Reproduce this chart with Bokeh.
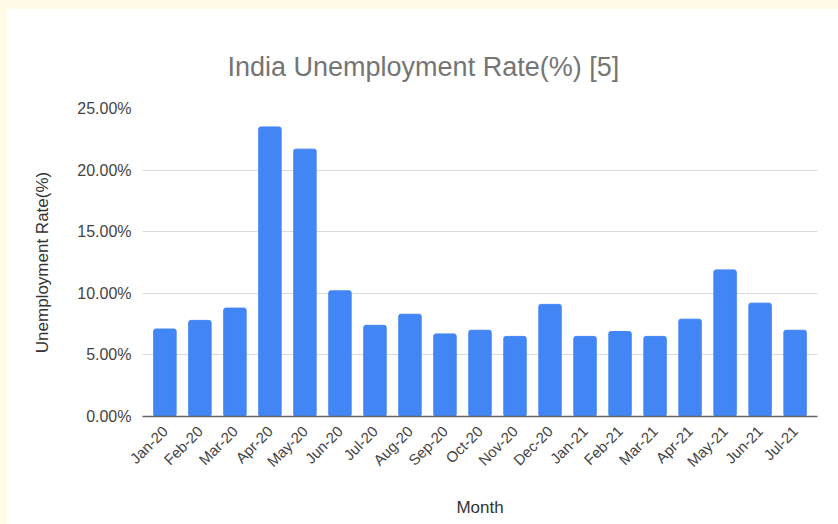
import math
from bokeh.plotting import figure
from bokeh.models import FactorRange, Range1d, FixedTicker, PrintfTickFormatter, ColumnDataSource
from bokeh.layouts import column
from bokeh.embed import file_html
from bokeh.resources import INLINE

months = ["Jan-20", "Feb-20", "Mar-20", "Apr-20", "May-20", "Jun-20", "Jul-20",
          "Aug-20", "Sep-20", "Oct-20", "Nov-20", "Dec-20", "Jan-21", "Feb-21",
          "Mar-21", "Apr-21", "May-21", "Jun-21", "Jul-21"]
rates = [7.1, 7.8, 8.8, 23.5, 21.7, 10.2, 7.4, 8.3, 6.7, 7.0, 6.5, 9.1,
         6.5, 6.9, 6.5, 7.9, 11.9, 9.2, 7.0]
y_ticks = [0, 5, 10, 15, 20, 25]

FONT = "Liberation Sans"

src = ColumnDataSource(data=dict(month=months, rate=rates))

p = figure(
    width=832, height=516,
    x_range=FactorRange(factors=months, range_padding=0.14, range_padding_units="absolute"),
    y_range=Range1d(0, 25),
    output_backend="svg", toolbar_location=None,
    min_border_left=136, min_border_right=21, min_border_top=100, min_border_bottom=108,
    title="India Unemployment Rate(%) [5]",
)
p.margin = (8, 0, 0, 6)
p.background_fill_color = "white"
p.border_fill_color = "white"
p.outline_line_color = None

p.title.align = "left"
p.title.offset = 85
p.title.text_font = FONT
p.title.text_font_size = "27px"
p.title.text_font_style = "normal"
p.title.text_color = "#757575"
p.title.standoff = 54

p.vbar(x="month", top="rate", width=0.64, source=src, color="#4285F4",
       line_color="#4285F4", border_radius=2)

# y axis
p.yaxis.ticker = FixedTicker(ticks=y_ticks)
p.yaxis.formatter = PrintfTickFormatter(format="%.2f%%")
p.yaxis.axis_line_color = None
p.yaxis.major_tick_line_color = None
p.yaxis.minor_tick_line_color = None
p.yaxis.major_label_text_font = FONT
p.yaxis.major_label_text_font_size = "16px"
p.yaxis.major_label_text_color = "#444444"
p.yaxis.major_label_standoff = 5
p.yaxis.axis_label = "Unemployment Rate(%)"
p.yaxis.axis_label_text_font = FONT
p.yaxis.axis_label_text_font_size = "17px"
p.yaxis.axis_label_text_font_style = "normal"
p.yaxis.axis_label_text_color = "#333333"
p.yaxis.axis_label_standoff = 22

# x axis
p.xaxis.axis_line_color = "#666666"
p.xaxis.axis_line_width = 1.5
p.xaxis.major_tick_line_color = None
p.xaxis.minor_tick_line_color = None
p.xaxis.major_label_orientation = math.pi / 4
p.xaxis.major_label_text_font = FONT
p.xaxis.major_label_text_font_size = "15px"
p.xaxis.major_label_text_color = "#444444"
p.xaxis.major_label_standoff = 6
p.xaxis.axis_label = "Month"
p.xaxis.axis_label_text_font = FONT
p.xaxis.axis_label_text_font_size = "17px"
p.xaxis.axis_label_text_font_style = "normal"
p.xaxis.axis_label_text_color = "#333333"
p.xaxis.axis_label_standoff = 19

p.xgrid.grid_line_color = None
p.ygrid.grid_line_color = "#dadada"
p.ygrid.grid_line_width = 1

layout = column(p, width=838, height=524, styles={"background-color": "#fffbe6"})

open("out.html", "w").write(file_html(layout, INLINE))
